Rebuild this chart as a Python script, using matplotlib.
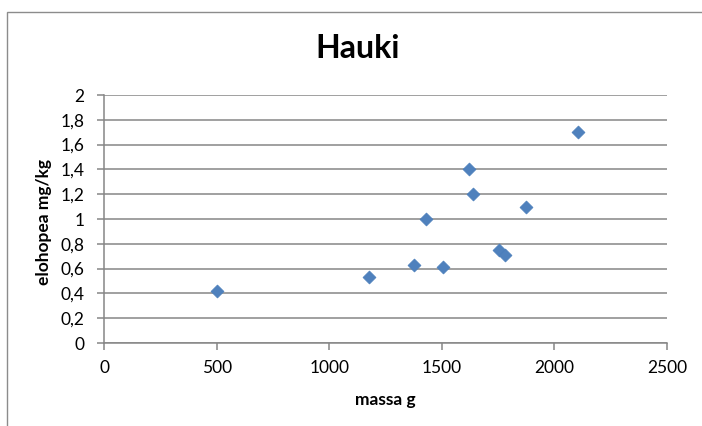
import matplotlib
matplotlib.use("Agg")
import matplotlib.pyplot as plt
from matplotlib.patches import Rectangle

# Pike: mercury content against body mass
massa_g = [500, 1176, 1377, 1431, 1505, 1623, 1637, 1756, 1779, 1872, 2104]
elohopea = [0.42, 0.53, 0.63, 1.00, 0.61, 1.40, 1.20, 0.75, 0.71, 1.10, 1.70]

x_ticks = [0, 500, 1000, 1500, 2000, 2500]
y_ticks = [0, 0.2, 0.4, 0.6, 0.8, 1.0, 1.2, 1.4, 1.6, 1.8, 2.0]
y_tick_labels = ["0", "0,2", "0,4", "0,6", "0,8", "1", "1,2", "1,4", "1,6", "1,8", "2"]

title = "Hauki"
x_label = "massa g"
y_label = "elohopea mg/kg"

plt.rcParams["font.family"] = ["Lato", "DejaVu Sans"]

grey = "#868686"
W, H = 702, 426
fig = plt.figure(figsize=(W / 100, H / 100), dpi=100)
ax = fig.add_axes([104 / W, 1 - 343 / H, (667 - 104) / W, (343 - 95) / H])

# chart-area frame
fig.patches.append(Rectangle((7 / W, -0.1), 1.2, 1 - 12 / H + 0.1,
                             transform=fig.transFigure, fill=False,
                             edgecolor="#8c8c8c", linewidth=1.0))

ax.scatter(massa_g, elohopea, marker="D", s=6.6 ** 2, color="#4F81BD",
           edgecolor="#4A7EBB", linewidths=0.5, zorder=3, clip_on=False)

ax.set_xlim(0, 2500)
ax.set_ylim(0, 2)
ax.set_xticks(x_ticks)
ax.set_xticklabels([str(v) for v in x_ticks])
ax.set_yticks(y_ticks)
ax.set_yticklabels(y_tick_labels)

ax.grid(axis="y", color=grey, linewidth=1.1)
ax.set_axisbelow(True)
for side in ("top", "right"):
    ax.spines[side].set_visible(False)
for side in ("left", "bottom"):
    ax.spines[side].set_color(grey)
    ax.spines[side].set_linewidth(1.1)
ax.tick_params(axis="both", colors=grey, length=5, width=1.1, labelsize=12.5,
               labelcolor="black")
ax.tick_params(axis="y", pad=9)
ax.tick_params(axis="x", pad=7)

fig.text(358 / W, 1 - 49 / H, title, ha="center", va="center",
         fontsize=23, fontweight="bold")
fig.text(385 / W, 1 - 400 / H, x_label, ha="center", va="center",
         fontsize=12.5, fontweight="bold")
fig.text(44 / W, 1 - 222 / H, y_label, ha="center", va="center",
         rotation=90, fontsize=12.5, fontweight="bold")

fig.savefig("out.png", dpi=100)
